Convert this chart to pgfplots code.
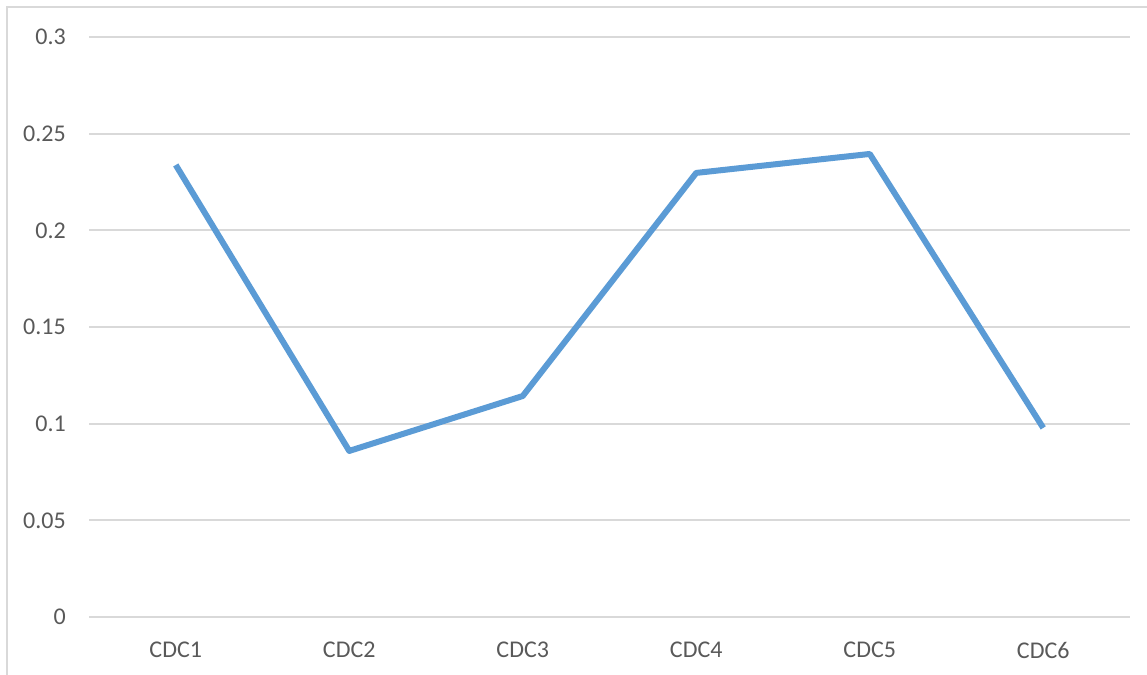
\documentclass[border=0pt]{standalone}
\usepackage{pgfplots}
\pgfplotsset{compat=1.18}
\usepackage{fontspec}
\setmainfont{Carlito}
\definecolor{gridc}{HTML}{D9D9D9}
\definecolor{textc}{HTML}{595959}
\definecolor{linec}{HTML}{5B9BD5}
\begin{document}
\begin{tikzpicture}
\path[use as bounding box] (0,0) rectangle (860.25pt,506.25pt);
\draw[gridc, line width=1.2pt] (5.25pt,0) -- (5.25pt,501pt) -- (860.25pt,501pt);
\begin{axis}[
  at={(66.75pt,43.5pt)}, anchor=south west,
  scale only axis, width=780.75pt, height=435pt,
  xmin=-0.5, xmax=5.5, ymin=0, ymax=0.3,
  xtick={0,1,2,3,4,5},
  xticklabels={CDC1,CDC2,CDC3,CDC4,CDC5,CDC6},
  ytick={0,0.05,0.1,0.15,0.2,0.25,0.3},
  yticklabels={0,0.05,0.1,0.15,0.2,0.25,0.3},
  /pgf/number format/assume math mode=true,
  axis line style={draw=none},
  major tick length=0pt,
  ymajorgrids, grid style={gridc, line width=1.3pt},
  tick label style={text=textc, font=\fontsize{18pt}{21pt}\selectfont, inner sep=0pt},
  yticklabel style={anchor=east, xshift=-17.25pt},
  xticklabel style={anchor=north, yshift=-18.75pt},
  clip=false,
]
\addplot[linec, line width=4.5pt, line join=round] coordinates {
 (0,0.2338) (1,0.0859) (2,0.1143) (3,0.2297) (4,0.2395) (5,0.0978)
};
\end{axis}
\end{tikzpicture}
\end{document}
